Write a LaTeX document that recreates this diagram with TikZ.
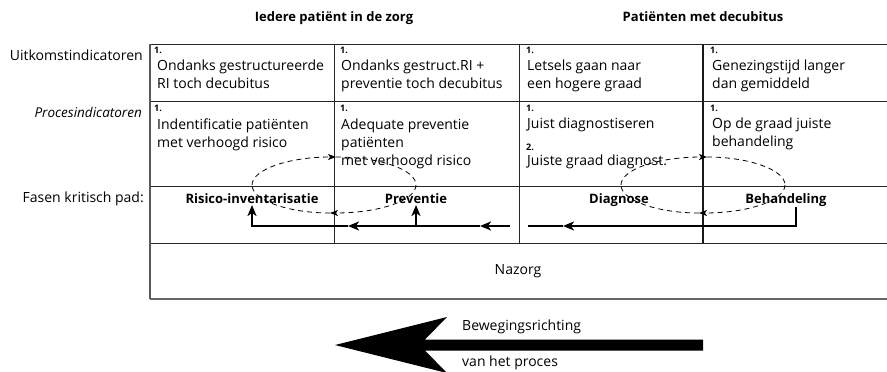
\documentclass[tikz,border=0pt]{standalone}
\usepackage{fontspec}
\setmainfont{Open Sans}
\usetikzlibrary{arrows.meta}
\tikzset{
  cell/.style={anchor=west, inner sep=0pt, font=\fontsize{14}{16}\selectfont, text height=10pt, text depth=3pt},
  num/.style={anchor=west, inner sep=0pt, font=\bfseries\fontsize{9}{10}\selectfont, text height=6.5pt, text depth=0pt},
  phase/.style={anchor=center, inner sep=0pt, font=\bfseries\fontsize{13}{15}\selectfont, text height=9.5pt, text depth=3pt},
  hdr/.style={anchor=center, inner sep=0pt, font=\bfseries\fontsize{13}{15}\selectfont, text height=9.5pt, text depth=3pt},
  side/.style={anchor=east, inner sep=0pt, font=\fontsize{14}{16}\selectfont, text height=10pt, text depth=3pt},
  gridline/.style={line width=1pt, draw=black!85},
  thickgrid/.style={line width=1.8pt, draw=black!90},
  flow/.style={line width=2pt},
  flowtip/.style={flow, -{Stealth[length=11pt,width=9pt,inset=3pt]}},
  cyc/.style={line width=0.8pt, dash pattern=on 5pt off 4pt},
  cyctip/.style={cyc, -{Stealth[length=8pt,width=6pt,inset=2pt]}},
}
\begin{document}
\begin{tikzpicture}[x=1pt,y=-1pt]
\useasboundingbox (0,0) rectangle (887,372);

% headers
\node[hdr] (h1) at (334,18) {Iedere patiënt in de zorg};
\node[hdr] (h2) at (703,18) {Patiënten met decubitus};

% side labels
\node[side] (s1) at (143,57) {Uitkomstindicatoren};
\node[side, font=\itshape\fontsize{13.5}{15}\selectfont] (s2) at (142,114) {Procesindicatoren};
\node[side] (s3) at (144,199) {Fasen kritisch pad:};

% grid
\draw[gridline] (150,44) -- (888,44);
\draw[gridline] (150,101) -- (888,101);
\draw[gridline] (150,186) -- (888,186);
\draw[gridline] (150,243) -- (888,243);
\draw[gridline, draw=black!60, line width=1.4pt] (150,299) -- (888,299);
\draw[gridline, draw=black!65, line width=1.3pt] (150,44) -- (150,299);
\draw[gridline] (334,44) -- (334,243);
\draw[gridline] (519,44) -- (519,243);
\draw[thickgrid] (703,44) -- (703,243);

% row 1
\node[num] (n11) at (154,50) {1.};
\node[cell] (t11a) at (157,67) {Ondanks gestructureerde};
\node[cell] (t11b) at (157,85) {RI toch decubitus};
\node[num] (n12) at (340,50) {1.};
\node[cell] (t12a) at (341,67) {Ondanks gestruct.RI +};
\node[cell] (t12b) at (341,85) {preventie toch decubitus};
\node[num] (n13) at (526,50) {1.};
\node[cell] (t13a) at (527,67) {Letsels gaan naar};
\node[cell] (t13b) at (527,85) {een hogere graad};
\node[num] (n14) at (710,50) {1.};
\node[cell] (t14a) at (712,67) {Genezingstijd langer};
\node[cell] (t14b) at (712,85) {dan gemiddeld};

% row 2
\node[num] (n21) at (154,108) {1.};
\node[cell] (t21a) at (157,126) {Indentificatie patiënten};
\node[cell] (t21b) at (157,144) {met verhoogd risico};
\node[num] (n22) at (340,108) {1.};
\node[cell] (t22a) at (341,126) {Adequate preventie};
\node[cell] (t22b) at (341,144) {patiënten};
\node[cell] (t22c) at (341,162) {met verhoogd risico};
\node[num] (n23) at (526,108) {1.};
\node[cell] (t23a) at (527,125) {Juist diagnostiseren};
\node[num] (n23b) at (526,147) {2.};
\node[cell] (t23b) at (527,162) {Juiste graad diagnost.};
\node[num] (n24) at (710,108) {1.};
\node[cell] (t24a) at (712,125) {Op de graad juiste};
\node[cell] (t24b) at (712,143) {behandeling};

% phases
\node[phase] (ri) at (252,200) {Risico-inventarisatie};
\node[phase] (pr) at (416,200) {Preventie};
\node[phase] (di) at (619,200) {Diagnose};
\node[phase] (be) at (786,200) {Behandeling};

% Nazorg
\node[cell, anchor=center] (naz) at (518,271) {Nazorg};

% dashed cycles
\coordinate (L1) at (252,185); \coordinate (T1) at (336,157);
\coordinate (R1) at (416,185); \coordinate (B1) at (330,213);
\draw[cyctip] (L1) .. controls (252,169.5) and (288.7,157) .. (T1);
\draw[cyc] (T1) .. controls (379.3,157) and (416,169.5) .. (R1);
\draw[cyctip] (R1) .. controls (416,200.5) and (379.3,213) .. (B1);
\draw[cyc] (B1) .. controls (288.7,213) and (252,200.5) .. (L1);

\coordinate (L2) at (621,185); \coordinate (T2) at (707,157);
\coordinate (R2) at (785,185); \coordinate (B2) at (699,213);
\draw[cyctip] (L2) .. controls (621,169.5) and (657.7,157) .. (T2);
\draw[cyc] (T2) .. controls (748.3,157) and (785,169.5) .. (R2);
\draw[cyctip] (R2) .. controls (785,200.5) and (748.3,213) .. (B2);
\draw[cyc] (B2) .. controls (657.7,213) and (621,200.5) .. (L2);

% solid flow
\coordinate (bs) at (796,207);
\coordinate (m1) at (563,226);
\coordinate (ae) at (528,226);
\coordinate (bstart) at (510,226);
\coordinate (m2) at (480,226);
\coordinate (m3) at (348,226);
\coordinate (pj) at (416,226);
\coordinate (rj) at (252,226);
\coordinate (pt) at (416,205);
\coordinate (rt) at (252,205);
\draw[flow] (m1) -- (ae);
\draw[flowtip] (bs) |- (m1);
\draw[flowtip] (m3) -- (rj) -- (rt);
\draw[flowtip] (m2) -- (m3);
\draw[flowtip] (bstart) -- (m2);
\draw[flowtip] (pj) -- (pt);

% big arrow
\fill (335,345) -- (447,317) -- (425,339.5) -- (703,339.5) -- (703,350.5) -- (425,350.5) -- (447,373) -- cycle;
\node[cell] (bw1) at (462,327) {Bewegingsrichting};
\node[cell] (bw2) at (462,363) {van het proces};
\end{tikzpicture}
\end{document}
